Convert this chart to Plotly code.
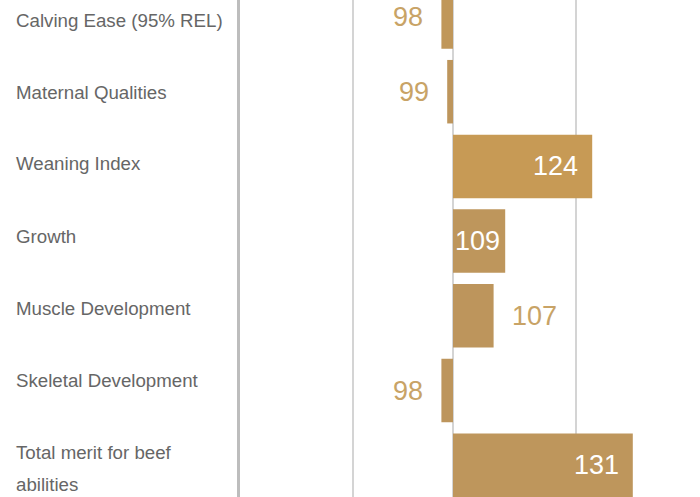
import textwrap
import plotly.graph_objects as go

# Index scores relative to a breed average of 100
categories = [
    "Calving Ease (95% REL)",
    "Maternal Qualities",
    "Weaning Index",
    "Growth",
    "Muscle Development",
    "Skeletal Development",
    "Total merit for beef abilities",
]
index_values = [98, 99, 124, 109, 107, 98, 131]
baseline = 100

# Figure geometry
W, H = 700, 497
plot_left = 240            # left edge of the plotting area (separator line sits just outside)
base_px = 453              # pixel position of the 100 baseline
px_per_unit = 5.8          # horizontal scale
row_px = 74.7              # vertical spacing between bar rows
first_row_px = 17          # centre of the first bar row
label_row_px = 72          # vertical spacing between category names
first_label_px = 20        # centre of the first category name
label_left_px = 16         # left edge of the category names

bar_colors = ["#C0975A", "#BD955C", "#C79A55", "#BE965C", "#BD955C", "#BD955C", "#BE965C"]
label_color = "#666666"
outside_text_color = "#C8A366"
grid_color = "#D4D4D4"
axis_color = "#BDBDBD"
font_family = "Liberation Sans, Arial, sans-serif"
value_font_size = 27
cat_font_size = 18.7

x_range = [baseline - (base_px - plot_left) / px_per_unit,
           baseline + (W - base_px) / px_per_unit]
grid_values = [baseline - (base_px - 353) / px_per_unit,
               baseline,
               baseline + (576 - base_px) / px_per_unit]

n = len(categories)
rows = list(range(n))
y_top = -first_row_px / row_px
y_bottom = y_top + H / row_px

fig = go.Figure()
fig.add_trace(go.Bar(
    y=rows,
    x=[v - baseline for v in index_values],
    base=baseline,
    orientation="h",
    width=0.85,
    marker=dict(color=bar_colors, line=dict(width=0)),
    hoverinfo="skip",
    showlegend=False,
))

annotations = []

# Category names, left aligned in the left margin
paper_x = (label_left_px - 2 - plot_left) / (W - plot_left)
line_gap = 32
for i, name in enumerate(categories):
    lines = textwrap.wrap(name, width=22)
    for k, line in enumerate(lines):
        py = first_label_px + i * label_row_px + k * line_gap
        annotations.append(dict(
            xref="paper", yref="paper", x=paper_x, y=1 - py / H,
            text=line, showarrow=False, xanchor="left", yanchor="middle",
            font=dict(family=font_family, size=cat_font_size, color=label_color),
        ))

# Value labels: white inside long bars, tan beside short ones
for i, v in enumerate(index_values):
    txt = str(v)
    bar_w = abs(v - baseline) * px_per_unit
    text_w = len(txt) * 0.556 * value_font_size
    positive = v >= baseline
    if bar_w >= text_w + 6:
        pad = min(12, (bar_w - text_w) / 2)
        annotations.append(dict(
            xref="x", yref="y", x=v, y=i, text=txt, showarrow=False,
            xanchor="right" if positive else "left",
            xshift=-pad if positive else pad, yanchor="middle",
            font=dict(family=font_family, size=value_font_size, color="#FFFFFF"),
        ))
    else:
        annotations.append(dict(
            xref="x", yref="y", x=v, y=i, text=txt, showarrow=False,
            xanchor="left" if positive else "right",
            xshift=16 if positive else -16, yanchor="middle",
            font=dict(family=font_family, size=value_font_size, color=outside_text_color),
        ))

fig.update_layout(
    width=W, height=H,
    margin=dict(l=plot_left, r=0, t=0, b=0, pad=0),
    paper_bgcolor="#FFFFFF",
    plot_bgcolor="#FFFFFF",
    annotations=annotations,
    xaxis=dict(
        range=x_range, tickvals=grid_values, showticklabels=False,
        showgrid=True, gridcolor=grid_color, gridwidth=2,
        zeroline=False, showline=False, fixedrange=True,
    ),
    yaxis=dict(
        range=[y_bottom, y_top], showticklabels=False, showgrid=False,
        zeroline=False, showline=True, linecolor=axis_color, linewidth=3,
        mirror=False, fixedrange=True,
    ),
    bargap=0.15,
)

fig.write_html("out.html", config={"displayModeBar": False})
